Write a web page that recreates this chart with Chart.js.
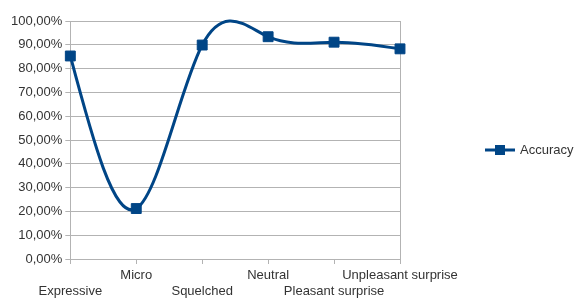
<!DOCTYPE html>
<html lang="en">
<head>
  <meta charset="UTF-8">
  <title>Accuracy</title>
  <script src="https://cdn.jsdelivr.net/npm/chart.js"></script>
  <style>
    body { margin: 0; background: #ffffff; }
    .chart-container { position: relative; width: 575px; height: 298px; }
  </style>
</head>
<body>
  <div class="chart-container">
    <canvas id="accuracyChart"></canvas>
  </div>

  <script>
    // Data
    const categories = ['Expressive', 'Micro', 'Squelched', 'Neutral', 'Pleasant surprise', 'Unpleasant surprise'];
    const accuracy = [85.3, 21.2, 89.9, 93.4, 91.1, 88.3];
    const seriesName = 'Accuracy';
    const yTicks = [0, 10, 20, 30, 40, 50, 60, 70, 80, 90, 100];

    const lineColor = '#004586';
    const gridColor = '#b3b3b3';
    const textColor = '#333333';

    // staggered labels: odd ones on the upper row, even ones on the lower row
    const staggered = categories.map((c, i) => (i % 2 === 0 ? ['', c] : [c, '']));

    // natural cubic spline through the point elements (like the office "cubic spline" line)
    const splinePlugin = {
      id: 'naturalSpline',
      beforeDatasetsDraw: (chart) => {
        const meta = chart.getDatasetMeta(0);
        const x = meta.data.map(p => p.x);
        const y = meta.data.map(p => p.y);
        const n = x.length;
        const h = [];
        for (let i = 0; i < n - 1; i++) h.push(x[i + 1] - x[i]);

        // solve the tridiagonal system for second derivatives, M[0] = M[n-1] = 0
        const M = new Array(n).fill(0);
        const a = [], b = [], c = [], d = [];
        for (let i = 1; i < n - 1; i++) {
          a.push(h[i - 1]);
          b.push(2 * (h[i - 1] + h[i]));
          c.push(h[i]);
          d.push(6 * ((y[i + 1] - y[i]) / h[i] - (y[i] - y[i - 1]) / h[i - 1]));
        }
        const m = b.length;
        for (let i = 1; i < m; i++) {
          const w = a[i] / b[i - 1];
          b[i] -= w * c[i - 1];
          d[i] -= w * d[i - 1];
        }
        const sol = new Array(m);
        sol[m - 1] = d[m - 1] / b[m - 1];
        for (let i = m - 2; i >= 0; i--) sol[i] = (d[i] - c[i] * sol[i + 1]) / b[i];
        for (let i = 0; i < m; i++) M[i + 1] = sol[i];

        const ctx = chart.ctx;
        ctx.save();
        ctx.strokeStyle = lineColor;
        ctx.lineWidth = 3;
        ctx.lineJoin = 'round';
        ctx.lineCap = 'round';
        ctx.beginPath();
        ctx.moveTo(x[0], y[0]);
        for (let i = 0; i < n - 1; i++) {
          const hi = h[i];
          const slope = (y[i + 1] - y[i]) / hi;
          const s0 = slope - hi * (2 * M[i] + M[i + 1]) / 6;
          const s1 = slope + hi * (M[i] + 2 * M[i + 1]) / 6;
          ctx.bezierCurveTo(
            x[i] + hi / 3, y[i] + s0 * hi / 3,
            x[i + 1] - hi / 3, y[i + 1] - s1 * hi / 3,
            x[i + 1], y[i + 1]
          );
        }
        ctx.stroke();
        ctx.restore();
      }
    };

    // legend drawn at the right
    const legendPlugin = {
      id: 'sideLegend',
      afterDraw: (chart) => {
        const { ctx } = chart;
        const y = 150;
        ctx.save();
        ctx.strokeStyle = lineColor;
        ctx.lineWidth = 3;
        ctx.beginPath();
        ctx.moveTo(485, y);
        ctx.lineTo(515, y);
        ctx.stroke();
        ctx.fillStyle = lineColor;
        ctx.fillRect(495, y - 5, 10, 10);
        ctx.fillStyle = textColor;
        ctx.font = '13px "Liberation Sans", Arial, sans-serif';
        ctx.textBaseline = 'middle';
        ctx.fillText(seriesName, 520, y);
        ctx.restore();
      }
    };

    Chart.defaults.font.family = '"Liberation Sans", Arial, sans-serif';
    Chart.defaults.font.size = 13;
    Chart.defaults.color = textColor;

    const ctx = document.getElementById('accuracyChart').getContext('2d');
    new Chart(ctx, {
      type: 'line',
      data: {
        labels: staggered,
        datasets: [{
          label: seriesName,
          data: accuracy,
          borderColor: lineColor,
          backgroundColor: lineColor,
          showLine: false,
          pointStyle: 'rect',
          pointRadius: 7,
          pointHoverRadius: 7,
          clip: false,
        }]
      },
      options: {
        responsive: true,
        maintainAspectRatio: false,
        animation: false,
        layout: { padding: { top: 21, right: 175, bottom: -4, left: 8 } },
        plugins: {
          legend: { display: false },
          tooltip: { enabled: false },
        },
        scales: {
          x: {
            offset: false,
            grid: {
              color: (c) => (c.index === categories.length - 1 ? gridColor : 'rgba(0,0,0,0)'),
              tickColor: gridColor,
              tickLength: 5,
            },
            border: { color: gridColor },
            ticks: {
              maxRotation: 0, autoSkip: false, padding: 3, color: textColor,
              font: { lineHeight: 16 / 13 },
            },
          },
          y: {
            min: 0,
            max: 100,
            afterBuildTicks: (axis) => { axis.ticks = yTicks.map(v => ({ value: v })); },
            grid: { color: gridColor, tickColor: gridColor, tickLength: 5 },
            border: { color: gridColor },
            ticks: {
              padding: 3,
              color: textColor,
              callback: (v) => v.toFixed(2).replace('.', ',') + '%',
            },
          },
        },
      },
      plugins: [splinePlugin, legendPlugin],
    });
  </script>
</body>
</html>
